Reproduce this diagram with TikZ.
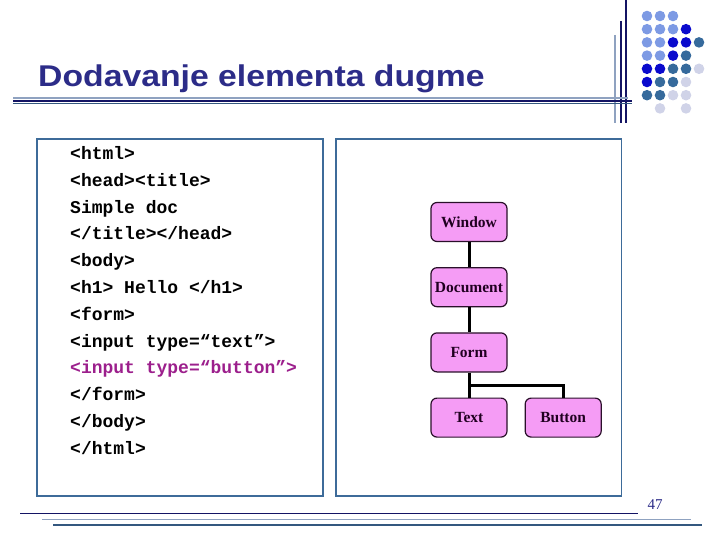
\documentclass[tikz,border=0pt]{standalone}
\usepackage{fontspec}
\setmainfont{Liberation Serif}
\setsansfont{Liberation Sans}
\setmonofont{Liberation Mono}
\usetikzlibrary{calc,positioning}
\definecolor{titleblue}{HTML}{2C2C88}
\definecolor{navyln}{HTML}{141464}
\definecolor{lightln}{HTML}{8FA2C0}
\definecolor{steelln}{HTML}{34587F}
\definecolor{panelblue}{HTML}{3D6B99}
\definecolor{objfill}{HTML}{F59CF5}
\definecolor{objline}{HTML}{2A102A}
\definecolor{objtext}{HTML}{200020}
\definecolor{btnpurple}{HTML}{9C1F8C}
\definecolor{dotA}{HTML}{7D9AE4}
\definecolor{dotB}{HTML}{0A0ACD}
\definecolor{dotC}{HTML}{366A9C}
\definecolor{dotD}{HTML}{D0D3E8}
\tikzset{obj/.style={draw=objline, fill=objfill, line width=1.2pt, rounded corners=6pt,
    minimum width=76pt, minimum height=39pt, inner sep=0pt,
    font=\rmfamily\bfseries\fontsize{15.5}{18}\selectfont, text=objtext},
  link/.style={line width=3pt},
  codeln/.style={anchor=base west, inner sep=0pt, font=\ttfamily\bfseries\fontsize{18}{20}\selectfont},
  panel/.style={draw=panelblue, line width=1.3pt},
  deco/.style={line width=1.6pt}}

\begin{document}
\begin{tikzpicture}[x=1pt, y=-1pt]
  \useasboundingbox (0,0) rectangle (720,540);
  % corner ornament
  \foreach \c/\r/\col in {0/0/dotA,1/0/dotA,2/0/dotA,
      0/1/dotA,1/1/dotA,2/1/dotA,3/1/dotB,
      0/2/dotA,1/2/dotA,2/2/dotB,3/2/dotB,4/2/dotC,
      0/3/dotA,1/3/dotA,2/3/dotB,3/3/dotC,
      0/4/dotB,1/4/dotB,2/4/dotC,3/4/dotC,4/4/dotD,
      0/5/dotB,1/5/dotC,2/5/dotC,3/5/dotD,
      0/6/dotC,1/6/dotC,2/6/dotD,3/6/dotD,
      1/7/dotD,3/7/dotD}
    \fill[\col] ({647+13*\c},{16+13.2*\r}) circle (5.3);
  \draw[deco, lightln] (615,35) -- (615,123);
  \draw[deco, navyln] (621,21) -- (621,123);
  \draw[deco, navyln] (626,0) -- (626,123);
  % title and rules
  \node[anchor=base west, inner sep=0pt, text=titleblue,
    font=\sffamily\bfseries\fontsize{30}{34}\selectfont] (title) at (38,87)
    {\scalebox{1.125}[1]{Dodavanje elementa dugme}};
  \draw[deco, lightln] (13,98) -- (628,98);
  \draw[deco, navyln] (13,101) -- (632,101);
  \draw[deco, steelln] (13,103.5) -- (632,103.5);
  % panels
  \draw[panel] (37,139) rectangle (323,496);
  \draw[panel] (336,139) rectangle (621.5,496);
  % html source
  \foreach \src [count=\n] in {<html>,<head><title>,Simple doc,</title></head>,<body>,
      <h1> Hello </h1>,<form>,<input type=“text”>,{\color{btnpurple}<input type=“button”>},
      </form>,</body>,</html>}
    \node[codeln] (code\n) at (70,{159.5+26.8*(\n-1)}) {\src};
  % object tree
  \node[obj] (window) at (469,222) {Window};
  \node[obj, below=25pt of window] (document) {Document};
  \node[obj, below=25pt of document] (form) {Form};
  \node[obj, below=25pt of form] (text) {Text};
  \node[obj, right=17pt of text] (button) {Button};
  \coordinate (split) at ($(form.south)+(0,12.5)$);
  \draw[link] (window.south) -- (document.north);
  \draw[link] (document.south) -- (form.north);
  \draw[link] (form.south) -- (text.north);
  \draw[link] (split) -| (button.north);
  % footer
  \draw[deco, navyln] (20,513.3) -- (638,513.3);
  \draw[deco, lightln] (42,519.3) -- (691,519.3);
  \draw[deco, steelln] (53,525) -- (702,525);
  \node[text=titleblue, font=\rmfamily\fontsize{15}{17}\selectfont, inner sep=0pt] (page) at (655,505) {47};
\end{tikzpicture}
\end{document}
